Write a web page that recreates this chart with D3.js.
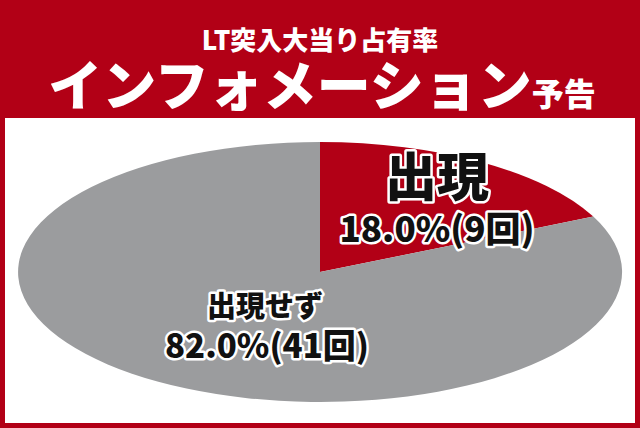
<!DOCTYPE html>
<meta charset="utf-8">
<style>body{margin:0}svg text{font-family:"Noto Sans CJK JP";font-weight:900}</style>
<body></body>
<script src="https://d3js.org/d3.v7.min.js"></script>
<script>
var labels = ["出現", "出現せず"];
var values = [18.0, 82.0];
var counts = [9, 41];
var colors = ["#b20016", "#9b9c9e"];

var W = 640, H = 428, red = "#b20016";
var svg = d3.select("body").append("svg").attr("width", W).attr("height", H);
svg.append("rect").attr("width", W).attr("height", H).attr("fill", red);
svg.append("rect").attr("x", 5).attr("y", 118).attr("width", W - 10).attr("height", H - 123).attr("fill", "#fff");

svg.append("text").attr("x", 320).attr("y", 50).attr("text-anchor", "middle")
  .attr("fill", "#fff").attr("font-size", 26).text("LT突入大当り占有率");
var t = svg.append("text").attr("x", 322).attr("y", 106).attr("text-anchor", "middle").attr("fill", "#fff");
t.append("tspan").attr("font-size", 54).text("インフォメーション");
t.append("tspan").attr("font-size", 32).text("予告");

var rx = 302, ry = 130;
var pie = d3.pie().sort(null);
var arc = d3.arc().innerRadius(0).outerRadius(1);
svg.append("g").attr("transform", "translate(320,272) scale(" + rx + "," + ry + ")")
  .selectAll("path").data(pie(values)).enter().append("path")
  .attr("d", arc).attr("fill", function(d, i) { return colors[i]; });

function label(x, y, size, txt) {
  svg.append("text").attr("x", x).attr("y", y).attr("text-anchor", "middle")
    .attr("font-size", size).attr("fill", "#111").attr("stroke", "#fff")
    .attr("stroke-width", 5).attr("stroke-linejoin", "round")
    .attr("paint-order", "stroke").text(txt);
}
label(437, 196, 52, labels[0]);
label(437, 242, 35, values[0].toFixed(1) + "%(" + counts[0] + "回)");
label(265, 317, 29, labels[1]);
label(267, 358, 33, values[1].toFixed(1) + "%(" + counts[1] + "回)");
</script>
